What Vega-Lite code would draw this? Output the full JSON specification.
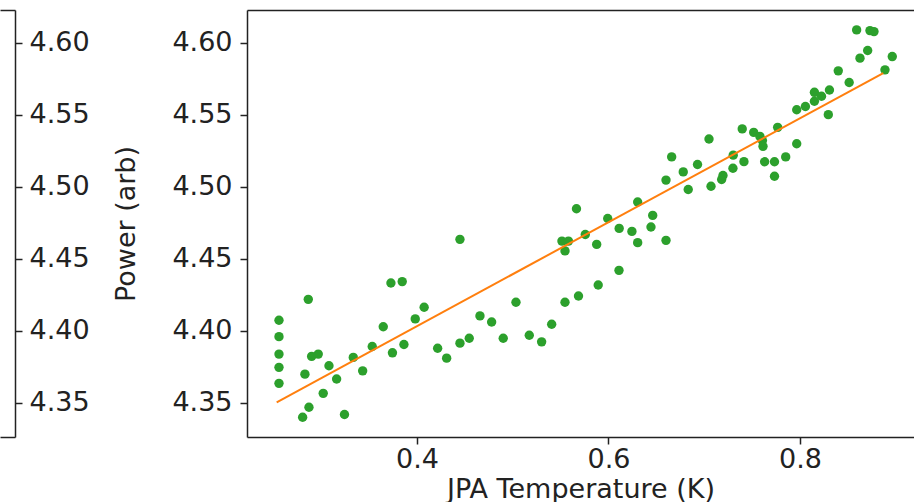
{
  "$schema": "https://vega.github.io/schema/vega-lite/v6.json",
  "padding": {"left": 0, "top": 10, "right": 0, "bottom": 0},
  "bounds": "flush",
  "spacing": 232,
  "config": {
    "font": "DejaVu Sans",
    "view": {"stroke": null},
    "axis": {
      "labelFont": "DejaVu Sans", "labelFontSize": 27, "labelColor": "#222",
      "titleFont": "DejaVu Sans", "titleFontSize": 27, "titleFontWeight": "normal", "titleColor": "#222",
      "tickColor": "#222", "domainColor": "#222", "tickSize": 7, "tickWidth": 1.5, "domainWidth": 1.5, "grid": false
    }
  },
  "datasets": {
    "pts": [
      {"temp": 0.2559, "power": 4.4074}, {"temp": 0.2559, "power": 4.3960}, {"temp": 0.2559, "power": 4.3839},
      {"temp": 0.2559, "power": 4.3747}, {"temp": 0.2559, "power": 4.3636}, {"temp": 0.2865, "power": 4.4219},
      {"temp": 0.2830, "power": 4.3700}, {"temp": 0.2872, "power": 4.3470}, {"temp": 0.2806, "power": 4.3401},
      {"temp": 0.2900, "power": 4.3823}, {"temp": 0.2969, "power": 4.3839}, {"temp": 0.3081, "power": 4.3758},
      {"temp": 0.3021, "power": 4.3567}, {"temp": 0.3161, "power": 4.3666}, {"temp": 0.3243, "power": 4.3420},
      {"temp": 0.3335, "power": 4.3816}, {"temp": 0.3433, "power": 4.3723}, {"temp": 0.3533, "power": 4.3892},
      {"temp": 0.3648, "power": 4.4029}, {"temp": 0.3744, "power": 4.3848}, {"temp": 0.3728, "power": 4.4332},
      {"temp": 0.3846, "power": 4.4342}, {"temp": 0.3864, "power": 4.3906}, {"temp": 0.3982, "power": 4.4083},
      {"temp": 0.4075, "power": 4.4164}, {"temp": 0.4216, "power": 4.3880}, {"temp": 0.4310, "power": 4.3811},
      {"temp": 0.4449, "power": 4.4635}, {"temp": 0.4449, "power": 4.3915}, {"temp": 0.4546, "power": 4.3949},
      {"temp": 0.4658, "power": 4.4104}, {"temp": 0.4780, "power": 4.4062}, {"temp": 0.4901, "power": 4.3949},
      {"temp": 0.5034, "power": 4.4199}, {"temp": 0.5173, "power": 4.3970}, {"temp": 0.5302, "power": 4.3924},
      {"temp": 0.5407, "power": 4.4046}, {"temp": 0.5546, "power": 4.4199}, {"temp": 0.5514, "power": 4.4623},
      {"temp": 0.5582, "power": 4.4623}, {"temp": 0.5546, "power": 4.4555}, {"temp": 0.5687, "power": 4.4242},
      {"temp": 0.5666, "power": 4.4847}, {"temp": 0.5758, "power": 4.4669}, {"temp": 0.5877, "power": 4.4600},
      {"temp": 0.5893, "power": 4.4318}, {"temp": 0.5992, "power": 4.4780}, {"temp": 0.6112, "power": 4.4711},
      {"temp": 0.6110, "power": 4.4420}, {"temp": 0.6245, "power": 4.4690}, {"temp": 0.6305, "power": 4.4612},
      {"temp": 0.6305, "power": 4.4894}, {"temp": 0.6462, "power": 4.4801}, {"temp": 0.6444, "power": 4.4721},
      {"temp": 0.6601, "power": 4.4628}, {"temp": 0.6601, "power": 4.5046}, {"temp": 0.6660, "power": 4.5207},
      {"temp": 0.6781, "power": 4.5103}, {"temp": 0.6833, "power": 4.4981}, {"temp": 0.6930, "power": 4.5154},
      {"temp": 0.7050, "power": 4.5331}, {"temp": 0.7071, "power": 4.5003}, {"temp": 0.7182, "power": 4.5050},
      {"temp": 0.7196, "power": 4.5078}, {"temp": 0.7300, "power": 4.5128}, {"temp": 0.7303, "power": 4.5219},
      {"temp": 0.7415, "power": 4.5174}, {"temp": 0.7397, "power": 4.5401}, {"temp": 0.7517, "power": 4.5377},
      {"temp": 0.7582, "power": 4.5349}, {"temp": 0.7608, "power": 4.5320}, {"temp": 0.7614, "power": 4.5280},
      {"temp": 0.7631, "power": 4.5173}, {"temp": 0.7734, "power": 4.5173}, {"temp": 0.7734, "power": 4.5073},
      {"temp": 0.7767, "power": 4.5412}, {"temp": 0.7851, "power": 4.5207}, {"temp": 0.7966, "power": 4.5298},
      {"temp": 0.7966, "power": 4.5534}, {"temp": 0.8057, "power": 4.5557}, {"temp": 0.8151, "power": 4.5593},
      {"temp": 0.8151, "power": 4.5655}, {"temp": 0.8225, "power": 4.5628}, {"temp": 0.8308, "power": 4.5671},
      {"temp": 0.8296, "power": 4.5500}, {"temp": 0.8400, "power": 4.5804}, {"temp": 0.8514, "power": 4.5723},
      {"temp": 0.8592, "power": 4.6088}, {"temp": 0.8731, "power": 4.6083}, {"temp": 0.8773, "power": 4.6076},
      {"temp": 0.8627, "power": 4.5892}, {"temp": 0.8707, "power": 4.5945}, {"temp": 0.8888, "power": 4.5811},
      {"temp": 0.8964, "power": 4.5903}
    ],
    "fit": [
      {"temp": 0.2535, "power": 4.3505},
      {"temp": 0.8870, "power": 4.5788}
    ]
  },
  "hconcat": [
    {
      "width": 15,
      "height": 427,
      "data": {"name": "pts"},
      "layer": [
        {
          "mark": {"type": "point", "opacity": 0, "clip": true},
          "encoding": {
            "x": {"field": "temp", "type": "quantitative",
                  "scale": {"domain": [0.2225, 0.9191], "nice": false, "zero": false},
                  "axis": {"labels": false, "ticks": false, "title": null}},
            "y": {"field": "power", "type": "quantitative",
                  "scale": {"domain": [4.3264, 4.6226], "nice": false, "zero": false},
                  "axis": {"orient": "right", "values": [4.35, 4.4, 4.45, 4.5, 4.55, 4.6], "format": ".2f", "title": null, "labelPadding": 7}}
          }
        },
        {
          "mark": {"type": "point", "opacity": 0, "clip": true},
          "encoding": {
            "x": {"field": "temp", "type": "quantitative",
                  "axis": {"orient": "top", "labels": false, "ticks": false, "title": null}},
            "y": {"field": "power", "type": "quantitative"}
          }
        }
      ],
      "resolve": {"axis": {"x": "independent"}}
    },
    {
      "width": 667,
      "height": 427,
      "layer": [
        {
          "data": {"name": "pts"},
          "mark": {"type": "circle", "size": 88, "opacity": 1, "color": "#2ca02c"},
          "encoding": {
            "x": {"field": "temp", "type": "quantitative",
                  "scale": {"domain": [0.2225, 0.9191], "nice": false, "zero": false},
                  "axis": {"values": [0.4, 0.6, 0.8], "format": ".1f", "title": "JPA Temperature (K)", "labelPadding": 2, "titlePadding": 4}},
            "y": {"field": "power", "type": "quantitative",
                  "scale": {"domain": [4.3264, 4.6226], "nice": false, "zero": false},
                  "axis": {"values": [4.35, 4.4, 4.45, 4.5, 4.55, 4.6], "format": ".2f", "title": "Power (arb)", "labelPadding": 8, "titlePadding": 31}}
          }
        },
        {
          "data": {"name": "fit"},
          "mark": {"type": "line", "color": "#ff7f0e", "strokeWidth": 2},
          "encoding": {
            "x": {"field": "temp", "type": "quantitative",
                  "axis": {"orient": "top", "labels": false, "ticks": false, "title": null}},
            "y": {"field": "power", "type": "quantitative"}
          }
        }
      ],
      "resolve": {"axis": {"x": "independent"}}
    }
  ]
}
